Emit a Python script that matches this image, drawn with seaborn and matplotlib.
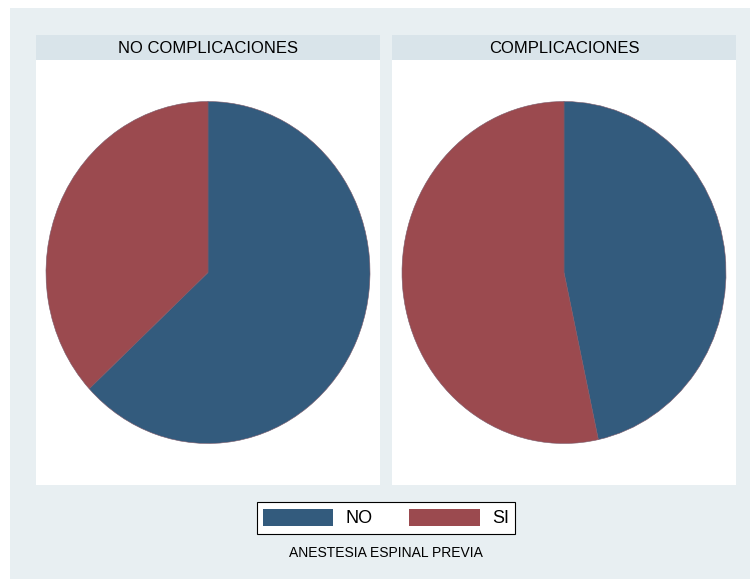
import matplotlib
matplotlib.use("Agg")
import matplotlib.pyplot as plt
import matplotlib.patches as mpatches
import seaborn as sns

# data (percent of each panel)
panels = ["NO COMPLICACIONES", "COMPLICACIONES"]
groups = ["NO", "SI"]
no_pct = [63.1, 46.6]
si_pct = [36.9, 53.4]

sns.set_theme(style="white")
plt.rcParams['font.family'] = ['Liberation Sans', 'DejaVu Sans']
plt.rcParams['text.color'] = 'black'

colors = ["#335b7d", "#9b4a4f"]
bg = "#e8eff2"
strip_col = "#d9e4ea"

W, H = 750, 579
fig = plt.figure(figsize=(7.5, 5.79), dpi=100)
fig.patch.set_facecolor("white")
fig.add_artist(mpatches.Rectangle((10 / W, 0), 1, (H - 8) / H,
                                  transform=fig.transFigure, facecolor=bg,
                                  edgecolor="none", zorder=0))

lefts = [36, 392]
pw = 344
top, bot = 60, 485
for i, name in enumerate(panels):
    x0 = lefts[i]
    ax = fig.add_axes([x0 / W, (H - bot) / H, pw / W, (bot - top) / H])
    ax.pie([no_pct[i], si_pct[i]], colors=colors, startangle=90,
           counterclock=False, radius=1,
           wedgeprops=dict(linewidth=0.4, edgecolor="#7a5a6a"))
    ax.set_aspect("auto")
    ax.set_xlim(-pw / (2 * 162), pw / (2 * 162))
    ax.set_ylim(-(bot - top) / (2 * 171), (bot - top) / (2 * 171))
    ax.set_frame_on(True)
    ax.patch.set_visible(True)
    ax.patch.set_facecolor("white")
    for s in ax.spines.values():
        s.set_visible(False)
    ax.set_xticks([])
    ax.set_yticks([])

    sax = fig.add_axes([x0 / W, (H - top) / H, pw / W, 25 / H])
    sax.set_facecolor(strip_col)
    for s in sax.spines.values():
        s.set_visible(False)
    sax.set_xticks([])
    sax.set_yticks([])
    sax.text(0.5, 0.45, name, ha="center", va="center", fontsize=12,
             color="black", transform=sax.transAxes)

handles = [mpatches.Patch(facecolor=c, edgecolor="none", label=g)
           for c, g in zip(colors, groups)]
leg = fig.legend(handles=handles, loc="center", ncol=2,
                 bbox_to_anchor=(386 / W, (H - 518) / H), fontsize=13,
                 frameon=True, fancybox=False, edgecolor="black",
                 facecolor="white", framealpha=1, handlelength=3.9,
                 handleheight=1.1, handletextpad=0.7, columnspacing=2.0,
                 borderpad=0.35)
leg.get_frame().set_linewidth(0.8)
for t in leg.get_texts():
    t.set_color("black")

fig.text(386 / W, (H - 553) / H, "ANESTESIA ESPINAL PREVIA", ha="center",
         va="center", fontsize=10, color="black")

fig.savefig("out.png", dpi=100)
